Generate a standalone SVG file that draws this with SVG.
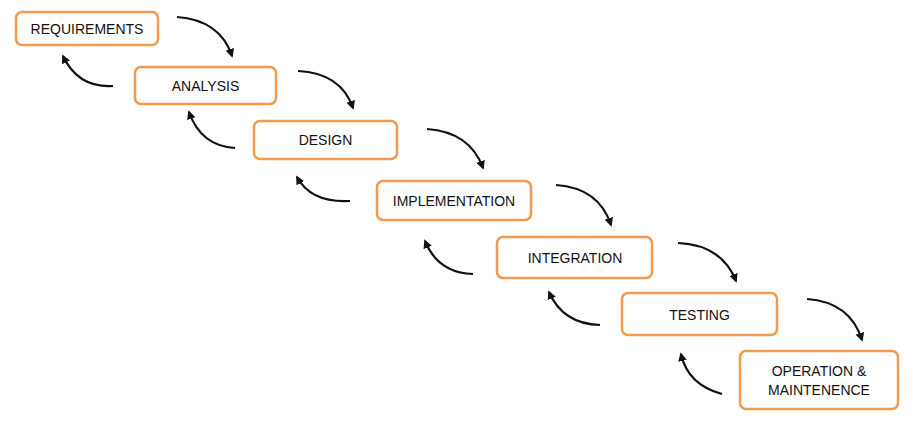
<svg xmlns="http://www.w3.org/2000/svg" width="913" height="430" viewBox="0 0 913 430">
<style>
.box{fill:#fff;stroke:#F29A4E;stroke-width:2.5}
.lbl{font-family:"Liberation Sans",Arial,sans-serif;font-size:14px;fill:#111;text-anchor:middle;dominant-baseline:central}
.arr{fill:none;stroke:#111;stroke-width:2.2;marker-end:url(#ah)}
</style>
<defs>
<marker id="ah" viewBox="0 0 10 10" refX="8" refY="5" markerWidth="4" markerHeight="4" orient="auto" markerUnits="strokeWidth">
<path d="M0,0 L10,5 L0,10 z" fill="#111"/>
</marker>
</defs>
<rect width="913" height="430" fill="#fff"/>
<g id="requirements"><rect class="box" x="16" y="12" width="142" height="33" rx="6"/><text class="lbl" x="87" y="28.5">REQUIREMENTS</text></g>
<g id="analysis"><rect class="box" x="135" y="67" width="141" height="37" rx="6"/><text class="lbl" x="205.5" y="85.5">ANALYSIS</text></g>
<g id="design"><rect class="box" x="254" y="121" width="143" height="38" rx="6"/><text class="lbl" x="325.5" y="140">DESIGN</text></g>
<g id="implementation"><rect class="box" x="377" y="181" width="154" height="39" rx="6"/><text class="lbl" x="454" y="201">IMPLEMENTATION</text></g>
<g id="integration"><rect class="box" x="497" y="237" width="155" height="41" rx="6"/><text class="lbl" x="575" y="258">INTEGRATION</text></g>
<g id="testing"><rect class="box" x="622" y="293" width="155" height="42" rx="6"/><text class="lbl" x="699.5" y="315">TESTING</text></g>
<g id="operation"><rect class="box" x="740" y="351" width="158" height="58" rx="6"/><text class="lbl" x="819" y="371">OPERATION &amp;</text><text class="lbl" x="819" y="390">MAINTENENCE</text></g>
<g id="connectors">
<path class="arr" d="M177,17 Q220,20 232,56"/>
<path class="arr" d="M298,71 Q341,73 353,108"/>
<path class="arr" d="M427,129 Q470,132 483,168"/>
<path class="arr" d="M556,185 Q599,188 611,225"/>
<path class="arr" d="M678,243 Q722,245 736,281"/>
<path class="arr" d="M807,299 Q850,302 862,340"/>
<path class="arr" d="M113,86 Q78,88 63,56"/>
<path class="arr" d="M235,148 Q201,146 189,112"/>
<path class="arr" d="M350,201 Q311,203 297,177"/>
<path class="arr" d="M473,274 Q438,273 425,241"/>
<path class="arr" d="M600,325 Q563,324 549,292"/>
<path class="arr" d="M722,394 Q688,385 681,354"/>
</g>
</svg>
